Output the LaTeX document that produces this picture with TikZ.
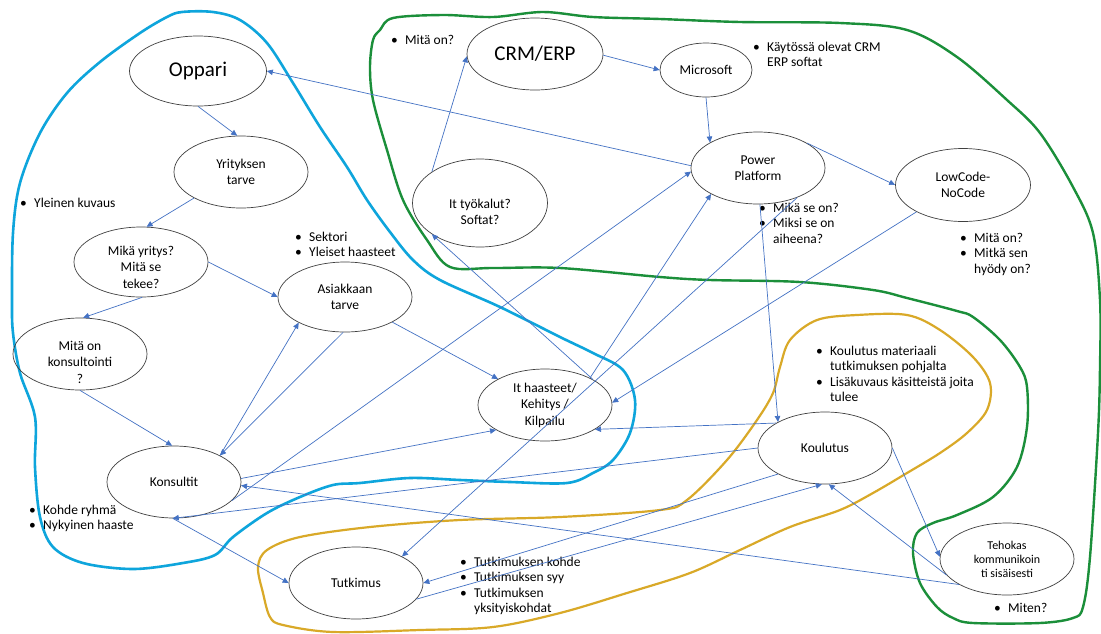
\documentclass[tikz,border=0pt]{standalone}
\usepackage{fontspec}
\setmainfont{Carlito}
\usetikzlibrary{arrows.meta,shapes.geometric}
\definecolor{arrowblue}{HTML}{4472C4}
\definecolor{cyanline}{HTML}{0EA5DC}
\definecolor{greenline}{HTML}{1B8F3A}
\definecolor{goldline}{HTML}{D9A928}
\definecolor{ellgray}{HTML}{404040}
\newcommand{\bi}{\makebox[14pt][l]{•}}
\begin{document}
\begin{tikzpicture}[x=1pt,y=-1pt,
  ell/.style={ellipse, draw=ellgray, line width=0.7pt, inner sep=0pt, align=center,
    minimum width=134pt, minimum height=72pt, font=\fontsize{13.5}{16.5}\selectfont},
  txt/.style={inner sep=0pt, align=center, font=\fontsize{13.5}{16.5}\selectfont},
  big/.style={font=\fontsize{21}{25}\selectfont},
  conn/.style={draw=arrowblue, line width=0.7pt, -{Triangle[length=6pt,width=5.5pt]}},
  bul/.style={anchor=base west, inner sep=0pt, font=\fontsize{13.5}{15.5}\selectfont},
  blob/.style={line width=2.6pt, line join=round}
]
\fill[white] (0,0) rectangle (1101,633);
\useasboundingbox (0,0) rectangle (1101,633);

% freehand outlines
\draw[blob, draw=cyanline] plot[smooth cycle, tension=0.55] coordinates {
 (182,12) (213,12) (240,20) (267,43) (293,83) (320,127) (347,167) (367,200) (390,232)
 (413,260) (440,280) (500,307) (560,337) (593,353) (623,370) (635,400) (630,433)
 (613,460) (593,473) (567,483) (510,482) (460,480) (410,478) (360,483) (333,485)
 (300,497) (267,513) (233,537) (215,555) (183,563) (133,569) (83,563) (53,547)
 (40,517) (35,467) (35,417) (20,373) (13,333) (12,300) (13,233) (20,183) (40,133)
 (67,93) (100,62) (140,33) (167,17)};
\draw[blob, draw=greenline, line width=2.4pt] plot[smooth cycle, tension=0.55] coordinates {
 (393,18) (443,15) (493,17) (543,12) (593,17) (660,19) (740,22) (840,23) (907,30)
 (957,57) (1007,100) (1040,133) (1073,187) (1093,233) (1100,300) (1100,367) (1098,433)
 (1090,557) (1083,607) (1073,618) (1040,623) (973,623) (953,618) (937,607) (920,583)
 (913,553) (917,533) (933,523) (957,515) (993,497) (1017,467) (1027,427) (1027,387)
 (1020,367) (1000,340) (973,317) (957,311) (907,298) (873,290) (800,282) (710,280)
 (660,277) (560,268) (493,268) (450,267) (427,240) (403,200) (387,150) (373,100)
 (370,67) (373,40) (380,30)};
\draw[blob, draw=goldline, line width=2.2pt] plot[smooth cycle, tension=0.55] coordinates {
 (817,320) (857,315) (907,315) (940,330) (973,357) (990,383) (987,410) (967,433)
 (940,453) (907,473) (873,493) (840,510) (790,527) (740,550) (690,573) (627,593)
 (560,613) (493,627) (420,630) (333,632) (283,625) (270,617) (263,593) (258,567)
 (267,550) (300,537) (370,527) (460,520) (560,517) (660,510) (687,500) (727,460)
 (757,420) (773,393) (780,367) (790,340)};

% nodes
\node[ell, big, minimum width=137pt, minimum height=70pt] (opp) at (198,71) {Oppari};
\node[ell] (yri) at (241,172) {Yrityksen\\tarve};
\node[ell, minimum height=70pt] (mika) at (141,262) {};
\node[txt] (mika-t) at ([yshift=-5pt]mika.center) {Mikä yritys?\\Mitä se\\tekee?};
\node[ell] (mitaon) at (80,354) {};
\node[txt] (mitaon-t) at ([yshift=-8pt]mitaon.center) {Mitä on\\konsultointi\\?};
\node[ell, minimum height=70pt] (asi) at (345,297) {Asiakkaan\\tarve};
\node[ell] (kons) at (174,482) {Konsultit};
\node[ell] (tutk) at (356,583) {Tutkimus};
\node[ell] (ith) at (545,405) {It haasteet/\\Kehitys /\\Kilpailu};
\node[ell, minimum width=135pt, minimum height=88pt] (ittyo) at (480,203) {};
\node[txt] (ittyo-t) at ([yshift=-9pt]ittyo.center) {It työkalut?\\Softat?};
\node[ell, big, minimum width=136pt] (crm) at (535,54) {CRM/ERP};
\node[ell, minimum width=92pt, minimum height=54pt] (ms) at (706,70) {Microsoft};
\node[ell] (pp) at (758,168) {Power\\Platform};
\node[ell, minimum width=135pt, minimum height=73pt] (low) at (963,185) {LowCode-\\NoCode};
\node[ell] (kou) at (825,448) {Koulutus};
\node[ell, font=\fontsize{12}{14}\selectfont] (teh) at (1007,559) {Tehokas\\kommunikoin\\ti sisäisesti};

% bullet texts
\node[bul] (b1) at (20,207) {\begin{tabular}[t]{@{}l@{}l@{}}\bi&Yleinen kuvaus\end{tabular}};
\node[bul] (b2) at (295,241) {\begin{tabular}[t]{@{}l@{}l@{}}\bi&Sektori\\\bi&Yleiset haasteet\end{tabular}};
\node[bul] (b3) at (391,44) {\begin{tabular}[t]{@{}l@{}l@{}}\bi&Mitä on?\end{tabular}};
\node[bul] (b4) at (753,51) {\begin{tabular}[t]{@{}l@{}l@{}}\bi&Käytössä olevat CRM\\&ERP softat\end{tabular}};
\node[bul] (b5) at (759,212) {\begin{tabular}[t]{@{}l@{}l@{}}\bi&Mikä se on?\\\bi&Miksi se on\\&aiheena?\end{tabular}};
\node[bul] (b6) at (960,242) {\begin{tabular}[t]{@{}l@{}l@{}}\bi&Mitä on?\\\bi&Mitkä sen\\&hyödy on?\end{tabular}};
\node[bul] (b7) at (816,355) {\begin{tabular}[t]{@{}l@{}l@{}}\bi&Koulutus materiaali\\&tutkimuksen pohjalta\\\bi&Lisäkuvaus käsitteistä joita\\&tulee\end{tabular}};
\node[bul] (b8) at (29,514) {\begin{tabular}[t]{@{}l@{}l@{}}\bi&Kohde ryhmä\\\bi&Nykyinen haaste\end{tabular}};
\node[bul] (b9) at (460,566) {\begin{tabular}[t]{@{}l@{}l@{}}\bi&Tutkimuksen kohde\\\bi&Tutkimuksen syy\\\bi&Tutkimuksen\\&yksityiskohdat\end{tabular}};
\node[bul] (b10) at (994,612) {\begin{tabular}[t]{@{}l@{}l@{}}\bi&Miten?\end{tabular}};

% connectors
\draw[conn] (opp.270) -- (yri.96);
\draw[conn] (yri.209) -- (mika.81);
\draw[conn] (mika.272) -- (mitaon.85);
\draw[conn] (mika.0) -- (asi.180);
\draw[conn] (mitaon.270) -- (kons.93);
\draw[conn] (pp.178) -- (opp.0);
\draw[conn] (kons.30) -- (asi.209);
\draw[conn] (asi.267) -- (kons.30);
\draw[conn] (kons.-18) -- (pp.183);
\draw[conn] (kons.3) -- (ith.207);
\draw[conn] (teh.208) -- (kons.-3);
\draw[conn] (kou.180) -- (kons.268);
\draw[conn] (kons.268) -- (tutk.180);
\draw[conn] (asi.-28) -- (ith.151);
\draw[conn] (ith.28) -- (ittyo.213);
\draw[conn] (ittyo.147) -- (crm.182);
\draw[conn] (crm.-1) -- (ms.180);
\draw[conn] (ms.270) -- (pp.152);
\draw[conn] (pp.27) -- (low.180);
\draw[conn] (low.210) -- (ith.2);
\draw[conn] (pp.273) -- (kou.151);
\draw[conn] (kou.153) -- (ith.-26);
\draw[conn] (ith.31) -- (pp.209);
\draw[conn] (pp.-37) -- (tutk.30);
\draw[conn] (kou.209) -- (tutk.0);
\draw[conn] (tutk.-15) -- (kou.265);
\draw[conn] (teh.195) -- (kou.276);
\draw[conn] (kou.0) -- (teh.178);
\end{tikzpicture}
\end{document}
